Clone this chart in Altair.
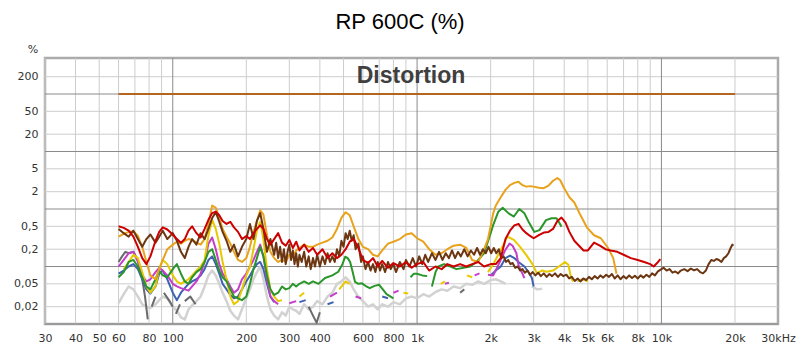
import altair as alt
import pandas as pd

TITLE = "RP 600C (%)"
PANEL_LABEL = "Distortion"
UNIT = "%"

X_TICKS = [30, 40, 50, 60, 80, 100, 200, 300, 400, 600, 800, 1000, 2000, 3000,
           4000, 5000, 6000, 8000, 10000, 20000, 30000]
Y_TICKS = [0.02, 0.05, 0.2, 0.5, 2, 5, 20, 50, 200]
X_GRID_LIGHT = [30, 40, 50, 60, 70, 80, 90, 200, 300, 400, 500, 600, 700, 800, 900,
                2000, 3000, 4000, 5000, 6000, 7000, 8000, 9000, 20000]
X_GRID_DARK = [100, 1000, 10000]
Y_GRID_LIGHT = [0.02, 0.05, 0.2, 0.5, 2, 5, 20, 50, 200]
Y_GRID_DARK = [0.01, 0.1, 1, 10, 100]

fundamental = [(60, 100), (20000, 100)]

red = [(60, 0.50), (63, 0.47), (66, 0.42), (69, 0.33), (72, 0.22), (75, 0.14), (78, 0.11), (81, 0.15),
       (85, 0.28), (88, 0.40), (91, 0.48), (95, 0.44), (100, 0.36), (104, 0.30), (108, 0.26), (112, 0.30),
       (116, 0.42), (120, 0.50), (125, 0.38), (130, 0.32), (135, 0.45), (140, 0.65), (145, 0.85), (150, 0.90),
       (155, 0.78), (160, 0.62), (166, 0.55), (172, 0.60), (178, 0.48), (185, 0.40), (192, 0.30), (200, 0.34),
       (207, 0.30), (214, 0.38), (221, 0.45), (228, 0.52), (235, 0.45), (243, 0.30), (251, 0.24), (260, 0.30),
       (270, 0.38), (280, 0.26), (290, 0.23), (300, 0.29), (310, 0.21), (320, 0.27), (330, 0.19), (345, 0.24),
       (360, 0.18), (375, 0.21), (390, 0.16), (410, 0.20), (430, 0.14), (450, 0.17), (470, 0.14), (490, 0.16),
       (510, 0.20), (530, 0.27), (550, 0.30), (575, 0.21), (600, 0.13), (630, 0.115), (660, 0.14), (690, 0.10),
       (720, 0.125), (760, 0.095), (800, 0.115), (850, 0.10), (900, 0.12), (950, 0.095), (1000, 0.11),
       (1060, 0.12), (1120, 0.085), (1190, 0.10), (1260, 0.09), (1330, 0.11), (1410, 0.10), (1500, 0.11),
       (1590, 0.10), (1680, 0.11), (1780, 0.12), (1880, 0.10), (2000, 0.11), (2100, 0.11), (2200, 0.14),
       (2300, 0.30), (2400, 0.42), (2500, 0.52), (2600, 0.55), (2700, 0.44), (2800, 0.38), (2900, 0.34),
       (3000, 0.31), (3150, 0.35), (3300, 0.39), (3450, 0.40), (3600, 0.45), (3750, 0.62), (3900, 0.71),
       (4050, 0.58), (4200, 0.40), (4400, 0.28), (4600, 0.23), (4800, 0.19), (5000, 0.19), (5300, 0.26),
       (5600, 0.23), (5900, 0.20), (6200, 0.19), (6600, 0.18), (7000, 0.16), (7500, 0.14), (8000, 0.13),
       (8500, 0.12), (9000, 0.11), (9300, 0.10), (9600, 0.115), (9900, 0.135)]

orange = [(60, 0.33), (63, 0.37), (66, 0.40), (69, 0.41), (72, 0.34), (75, 0.22), (78, 0.12), (81, 0.07),
          (85, 0.06), (88, 0.09), (91, 0.13), (95, 0.20), (100, 0.24), (104, 0.27), (108, 0.25), (112, 0.28),
          (116, 0.30), (120, 0.29), (125, 0.26), (130, 0.24), (135, 0.30), (140, 0.55), (145, 1.15), (150, 1.05),
          (155, 0.70), (160, 0.45), (166, 0.33), (172, 0.25), (178, 0.18), (185, 0.13), (192, 0.12), (200, 0.14),
          (207, 0.22), (214, 0.40), (221, 0.62), (228, 0.95), (235, 0.80), (243, 0.35), (251, 0.18), (260, 0.14),
          (270, 0.12), (280, 0.13), (290, 0.12), (300, 0.16), (310, 0.15), (320, 0.19), (330, 0.21), (345, 0.24),
          (360, 0.22), (375, 0.22), (390, 0.24), (410, 0.26), (430, 0.28), (450, 0.32), (470, 0.45), (490, 0.70),
          (510, 0.88), (530, 0.78), (550, 0.50), (575, 0.30), (600, 0.22), (630, 0.20), (660, 0.16), (690, 0.15),
          (720, 0.19), (760, 0.25), (800, 0.27), (850, 0.30), (900, 0.36), (950, 0.38), (1000, 0.31),
          (1060, 0.27), (1120, 0.20), (1190, 0.16), (1260, 0.17), (1330, 0.20), (1410, 0.23), (1500, 0.24),
          (1590, 0.21), (1680, 0.13), (1780, 0.12), (1880, 0.20), (1950, 0.30), (2000, 0.50), (2050, 0.85),
          (2100, 1.15), (2200, 1.6), (2300, 2.15), (2400, 2.6), (2500, 2.85), (2600, 2.98), (2700, 2.6),
          (2800, 2.45), (2900, 2.5), (3000, 2.45), (3150, 2.35), (3300, 2.3), (3450, 2.55), (3600, 3.1),
          (3750, 3.45), (3850, 3.2), (4000, 2.3), (4200, 1.6), (4400, 1.3), (4650, 0.8), (4950, 0.48),
          (5300, 0.35), (5650, 0.31), (6050, 0.21), (6350, 0.14), (6550, 0.075)]

brown = [(60, 0.45), (63, 0.38), (66, 0.33), (69, 0.42), (72, 0.30), (75, 0.22), (78, 0.30), (81, 0.36),
         (85, 0.26), (88, 0.33), (91, 0.42), (95, 0.30), (100, 0.38), (104, 0.28), (108, 0.18), (112, 0.14),
         (116, 0.22), (120, 0.30), (125, 0.24), (130, 0.38), (135, 0.30), (140, 0.45), (145, 0.70), (150, 0.88),
         (155, 0.60), (160, 0.40), (166, 0.28), (172, 0.18), (178, 0.24), (185, 0.15), (192, 0.22), (200, 0.30),
         (207, 0.55), (214, 0.30), (221, 0.62), (228, 0.85), (235, 0.45), (243, 0.18), (251, 0.30), (260, 0.16),
         (265, 0.26), (270, 0.14), (275, 0.22), (280, 0.12), (285, 0.20), (290, 0.11), (295, 0.18), (300, 0.24),
         (305, 0.13), (310, 0.19), (315, 0.11), (320, 0.17), (325, 0.10), (330, 0.16), (337, 0.12), (345, 0.18),
         (352, 0.10), (360, 0.15), (367, 0.09), (375, 0.14), (382, 0.10), (390, 0.16), (400, 0.10), (410, 0.15),
         (420, 0.11), (430, 0.17), (440, 0.12), (450, 0.15), (460, 0.12), (470, 0.20), (480, 0.15), (490, 0.28),
         (500, 0.22), (510, 0.38), (520, 0.30), (530, 0.42), (540, 0.28), (550, 0.35), (560, 0.20), (575, 0.25),
         (590, 0.12), (600, 0.15), (615, 0.09), (630, 0.12), (645, 0.085), (660, 0.11), (675, 0.08), (690, 0.12),
         (705, 0.085), (720, 0.11), (740, 0.08), (760, 0.12), (780, 0.09), (800, 0.11), (820, 0.08), (850, 0.12),
         (880, 0.09), (900, 0.13), (930, 0.10), (960, 0.14), (990, 0.10), (1020, 0.15), (1050, 0.11),
         (1080, 0.16), (1110, 0.12), (1150, 0.17), (1190, 0.13), (1230, 0.18), (1270, 0.13), (1310, 0.17),
         (1350, 0.14), (1390, 0.19), (1430, 0.14), (1470, 0.18), (1510, 0.15), (1560, 0.20), (1610, 0.15),
         (1660, 0.19), (1710, 0.16), (1760, 0.21), (1810, 0.16), (1860, 0.20), (1910, 0.17), (1960, 0.22),
         (2010, 0.17), (2060, 0.21), (2110, 0.17), (2160, 0.20), (2210, 0.14), (2260, 0.15), (2310, 0.12),
         (2360, 0.13), (2410, 0.11), (2460, 0.115), (2520, 0.095), (2580, 0.10), (2640, 0.085), (2700, 0.09),
         (2760, 0.078), (2830, 0.085), (2900, 0.072), (2970, 0.08), (3050, 0.07), (3130, 0.078), (3210, 0.068),
         (3300, 0.076), (3390, 0.066), (3480, 0.074), (3570, 0.068), (3670, 0.076), (3770, 0.066), (3870, 0.074),
         (3970, 0.068), (4080, 0.072), (4190, 0.062), (4300, 0.066), (4420, 0.056), (4540, 0.062), (4660, 0.055),
         (4790, 0.062), (4920, 0.058), (5050, 0.066), (5190, 0.060), (5330, 0.068), (5480, 0.062), (5630, 0.070),
         (5780, 0.064), (5940, 0.072), (6100, 0.066), (6270, 0.074), (6440, 0.062), (6620, 0.070), (6800, 0.060),
         (6990, 0.068), (7180, 0.062), (7380, 0.070), (7580, 0.063), (7790, 0.069), (8000, 0.062), (8220, 0.070),
         (8450, 0.064), (8680, 0.072), (8920, 0.066), (9160, 0.076), (9410, 0.070), (9670, 0.082), (9940, 0.088),
         (10200, 0.095), (10500, 0.085), (10800, 0.090), (11100, 0.078), (11400, 0.082), (11700, 0.076),
         (12000, 0.085), (12400, 0.090), (12800, 0.083), (13200, 0.092), (13600, 0.086), (14000, 0.090),
         (14400, 0.080), (14800, 0.076), (15200, 0.085), (15600, 0.11), (16000, 0.13), (16400, 0.125),
         (16800, 0.135), (17200, 0.13), (17600, 0.12), (18000, 0.14), (18400, 0.15), (18800, 0.17),
         (19200, 0.21), (19500, 0.24), (19700, 0.23)]

green = [
    [(60, 0.065), (63, 0.08), (66, 0.12), (69, 0.13), (72, 0.10), (75, 0.065), (78, 0.045), (81, 0.04),
     (85, 0.06), (88, 0.085), (91, 0.07), (95, 0.065), (100, 0.09), (104, 0.11), (108, 0.075), (112, 0.055),
     (116, 0.05), (120, 0.065), (125, 0.08), (130, 0.09), (135, 0.12), (140, 0.18), (145, 0.20), (150, 0.13),
     (155, 0.085), (160, 0.065), (166, 0.055), (172, 0.04), (178, 0.03), (185, 0.028), (192, 0.026),
     (200, 0.03), (207, 0.05), (214, 0.09), (221, 0.14), (228, 0.22), (235, 0.15), (243, 0.07), (251, 0.04),
     (260, 0.032), (270, 0.035), (280, 0.045), (290, 0.04), (300, 0.042), (310, 0.05), (320, 0.045),
     (330, 0.05), (345, 0.055), (360, 0.05), (375, 0.055), (395, 0.05), (420, 0.063), (450, 0.07),
     (476, 0.081), (495, 0.11), (508, 0.148), (520, 0.14), (532, 0.12), (545, 0.08), (557, 0.054),
     (575, 0.05), (595, 0.051), (620, 0.045), (640, 0.042), (670, 0.046), (700, 0.048), (750, 0.033),
     (800, 0.028)],
    [(940, 0.065), (970, 0.075), (1000, 0.075), (1050, 0.07), (1100, 0.068)],
    [(1150, 0.045), (1190, 0.08), (1220, 0.10), (1290, 0.11), (1370, 0.10), (1450, 0.09), (1550, 0.095),
     (1650, 0.10), (1750, 0.12), (1880, 0.17), (1930, 0.24), (2000, 0.38), (2050, 0.53), (2150, 0.9),
     (2240, 1.05), (2370, 0.84), (2490, 0.74), (2620, 1.0), (2750, 0.84), (2860, 0.6), (3020, 0.40),
     (3170, 0.43), (3370, 0.64), (3550, 0.69), (3720, 0.69), (3800, 0.6), (3900, 0.49)],
]

yellow = [
    [(63, 0.09), (66, 0.12), (69, 0.16), (72, 0.14), (75, 0.08), (78, 0.045), (81, 0.035), (85, 0.045),
     (88, 0.09), (91, 0.13), (95, 0.11), (100, 0.07), (104, 0.055), (108, 0.05), (112, 0.055), (116, 0.06),
     (120, 0.07), (125, 0.085), (130, 0.10), (135, 0.13), (140, 0.35), (145, 0.65), (150, 0.45), (155, 0.25),
     (160, 0.12), (166, 0.06), (172, 0.03), (178, 0.022), (185, 0.025), (192, 0.04), (200, 0.07), (207, 0.10),
     (214, 0.20), (221, 0.42), (228, 0.60), (235, 0.30), (243, 0.09), (251, 0.04), (260, 0.03), (270, 0.025),
     (280, 0.026)],
    [(330, 0.03), (345, 0.035)],
    [(480, 0.04), (510, 0.055), (530, 0.05)],
    [(880, 0.035), (920, 0.034)],
    [(1250, 0.05), (1300, 0.055)],
    [(1600, 0.07), (1680, 0.065)],
    [(1950, 0.08), (2050, 0.11), (2180, 0.18), (2290, 0.27), (2340, 0.33), (2420, 0.31), (2490, 0.29),
     (2640, 0.22), (2800, 0.158), (2980, 0.107), (3090, 0.076), (3240, 0.085), (3390, 0.081), (3600, 0.085),
     (3780, 0.098), (4030, 0.12), (4160, 0.107), (4270, 0.063), (4350, 0.055)],
    [(4550, 0.056), (4800, 0.06), (5000, 0.055)],
]

magenta = [
    [(60, 0.10), (63, 0.13), (66, 0.17), (69, 0.18), (72, 0.12), (75, 0.07), (78, 0.055), (81, 0.06),
     (85, 0.08), (88, 0.095), (91, 0.085), (95, 0.07), (100, 0.05), (104, 0.045), (108, 0.042), (112, 0.04),
     (116, 0.038), (120, 0.045), (125, 0.055), (130, 0.075), (135, 0.12), (140, 0.25), (145, 0.32), (150, 0.20),
     (155, 0.11), (160, 0.075), (166, 0.06), (172, 0.045), (178, 0.035), (185, 0.04), (192, 0.06), (200, 0.075),
     (207, 0.10), (214, 0.13), (221, 0.18), (228, 0.24), (235, 0.15), (243, 0.06), (251, 0.03), (260, 0.025),
     (270, 0.022)],
    [(300, 0.023), (320, 0.025)],
    [(440, 0.03), (470, 0.035)],
    [(560, 0.03), (590, 0.028)],
    [(800, 0.035), (840, 0.038)],
    [(1300, 0.05), (1350, 0.052)],
    [(1720, 0.07), (1800, 0.076)],
    [(1950, 0.072), (2050, 0.07), (2180, 0.12), (2290, 0.19), (2390, 0.25), (2460, 0.23), (2550, 0.17),
     (2600, 0.107), (2750, 0.063)],
]

blue = [
    [(60, 0.075), (63, 0.085), (66, 0.10), (69, 0.11), (72, 0.09), (75, 0.06), (78, 0.04), (81, 0.034),
     (85, 0.045), (88, 0.075), (91, 0.085), (95, 0.06), (100, 0.035), (104, 0.026), (108, 0.035), (112, 0.042),
     (116, 0.05), (120, 0.055), (125, 0.06), (130, 0.07), (135, 0.09), (140, 0.13), (145, 0.15), (150, 0.11),
     (155, 0.075), (160, 0.05), (166, 0.04), (172, 0.032), (178, 0.028), (185, 0.03), (192, 0.04), (200, 0.055),
     (207, 0.07), (214, 0.09), (221, 0.11), (228, 0.12), (235, 0.09), (243, 0.05), (251, 0.03), (260, 0.024)],
    [(330, 0.024), (350, 0.026)],
    [(430, 0.022), (455, 0.024)],
    [(720, 0.03), (760, 0.028)],
    [(2000, 0.07), (2100, 0.085), (2200, 0.10), (2300, 0.14), (2400, 0.155), (2500, 0.14), (2600, 0.12),
     (2750, 0.10), (2850, 0.081), (2950, 0.063), (3000, 0.045)],
]

dark_gray = [
    [(60, 0.12), (62, 0.15), (64, 0.18), (66, 0.17), (69, 0.18), (72, 0.13), (75, 0.06), (77, 0.03), (79, 0.012)],
    [(82, 0.02), (85, 0.03)],
    [(92, 0.035), (97, 0.025), (100, 0.02)],
    [(103, 0.015), (107, 0.022)],
    [(112, 0.025), (118, 0.03), (124, 0.022)],
    [(360, 0.02), (375, 0.014), (388, 0.0105), (400, 0.016)],
    [(1500, 0.035), (1560, 0.04)],
]

light_gray = [
    [(60, 0.023), (63, 0.033), (66, 0.045), (69, 0.04), (72, 0.03), (75, 0.022), (78, 0.02), (81, 0.019),
     (85, 0.022), (88, 0.026), (91, 0.03), (95, 0.028), (100, 0.02), (104, 0.017), (108, 0.013), (112, 0.012),
     (116, 0.018), (120, 0.021), (125, 0.025), (130, 0.03), (135, 0.045), (140, 0.07), (145, 0.085),
     (150, 0.07), (155, 0.05), (160, 0.035), (166, 0.025), (172, 0.017), (178, 0.014), (185, 0.012),
     (192, 0.018), (200, 0.028), (207, 0.04), (214, 0.06), (221, 0.08), (228, 0.10), (235, 0.06), (243, 0.03),
     (251, 0.018), (260, 0.014), (270, 0.012), (280, 0.016), (290, 0.014), (300, 0.02), (310, 0.018),
     (320, 0.017), (330, 0.015), (345, 0.022), (360, 0.018), (375, 0.02), (390, 0.025), (410, 0.022),
     (430, 0.03), (450, 0.035), (470, 0.05), (490, 0.055), (510, 0.065), (530, 0.055), (550, 0.04),
     (575, 0.03), (600, 0.025), (630, 0.02), (660, 0.022), (690, 0.018), (720, 0.022), (760, 0.02),
     (800, 0.024), (850, 0.022), (900, 0.028), (950, 0.03), (1000, 0.028), (1060, 0.033), (1120, 0.03),
     (1190, 0.036), (1260, 0.04), (1330, 0.038), (1410, 0.045), (1500, 0.042), (1590, 0.05), (1680, 0.048),
     (1780, 0.055), (1880, 0.05), (2000, 0.058), (2100, 0.06), (2200, 0.055), (2300, 0.05)],
    [(2950, 0.045), (3100, 0.04), (3250, 0.041)],
    [(4500, 0.055), (4800, 0.06), (5000, 0.057)],
]

SERIES = [
    (light_gray, "#d2d2d2", 2.5),
    (dark_gray, "#6a6a6a", 2),
    (blue, "#3e62b2", 2),
    (magenta, "#c43fc8", 2),
    (yellow, "#e8c900", 2),
    (green, "#2a962a", 2),
    (orange, "#e8a21c", 2),
    (brown, "#6b3611", 2),
    (red, "#cc0000", 2),
]

XS = alt.Scale(type="log", domain=[30, 30000], nice=False)
YS = alt.Scale(type="log", domain=[0.01, 423], nice=False)

LBL = dict(labelFont="DejaVu Sans", labelFontSize=11, labelColor="#333333",
           grid=False, ticks=False, domain=False, title=None, labelOverlap=False)

X_AXIS = alt.Axis(values=X_TICKS, labelPadding=8, labelFlush=False,
                  labelExpr="datum.value >= 30000 ? '30kHz' : (datum.value >= 1000 ? (datum.value / 1000) + 'k' : '' + datum.value)",
                  **LBL)
Y_AXIS = alt.Axis(values=Y_TICKS, labelPadding=7,
                  labelExpr="replace('' + datum.value, '.', ',')", **LBL)


def xenc(field="f"):
    return alt.X(f"{field}:Q", scale=XS, axis=X_AXIS)


def yenc(field="v"):
    return alt.Y(f"{field}:Q", scale=YS, axis=Y_AXIS)


def to_frame(data):
    segs = data if isinstance(data[0], list) else [data]
    rows = [{"f": f, "v": v, "seg": i} for i, s in enumerate(segs) for f, v in s]
    return pd.DataFrame(rows)


def vrules(vals, color):
    return alt.Chart(pd.DataFrame({"f": vals})).mark_rule(color=color, strokeWidth=1).encode(x=xenc())


def hrules(vals, color):
    return alt.Chart(pd.DataFrame({"v": vals})).mark_rule(color=color, strokeWidth=1).encode(y=yenc())


layers = [
    vrules(X_GRID_LIGHT, "#cdcdcd"),
    hrules(Y_GRID_LIGHT, "#cdcdcd"),
    vrules(X_GRID_DARK, "#8a8a8a"),
    hrules(Y_GRID_DARK, "#8a8a8a"),
    alt.Chart(to_frame(fundamental)).mark_line(color="#b5651d", strokeWidth=2).encode(x=xenc(), y=yenc()),
]

for data, color, width in SERIES:
    layers.append(
        alt.Chart(to_frame(data)).mark_line(color=color, strokeWidth=width, strokeJoin="round", clip=True).encode(
            x=xenc(), y=yenc(), detail="seg:N", order="f:Q",
        )
    )

layers.append(
    alt.Chart(pd.DataFrame({"t": [PANEL_LABEL]})).mark_text(
        font="Liberation Sans", fontSize=23, fontWeight="bold", color="#3f3f3f",
        align="center", baseline="alphabetic").encode(
        text="t:N", x=alt.value(366), y=alt.value(25))
)
layers.append(
    alt.Chart(pd.DataFrame({"t": [TITLE]})).mark_text(
        font="Liberation Sans", fontSize=22, color="#000000",
        align="center", baseline="alphabetic").encode(
        text="t:N", x=alt.value(355), y=alt.value(-29))
)
layers.append(
    alt.Chart(pd.DataFrame({"t": [UNIT]})).mark_text(
        font="DejaVu Sans", fontSize=11, color="#333333",
        align="center", baseline="alphabetic").encode(
        text="t:N", x=alt.value(-12), y=alt.value(-5))
)

chart = alt.layer(*layers).properties(
    width=733, height=266,
    padding={"left": 45, "top": 58, "right": 22, "bottom": 29},
    autosize=alt.AutoSizeParams(type="none"),
    background="white",
).configure_view(stroke="#ababab", strokeWidth=2.5)

chart.save("out.html", embed_options={"renderer": "svg", "actions": False})
